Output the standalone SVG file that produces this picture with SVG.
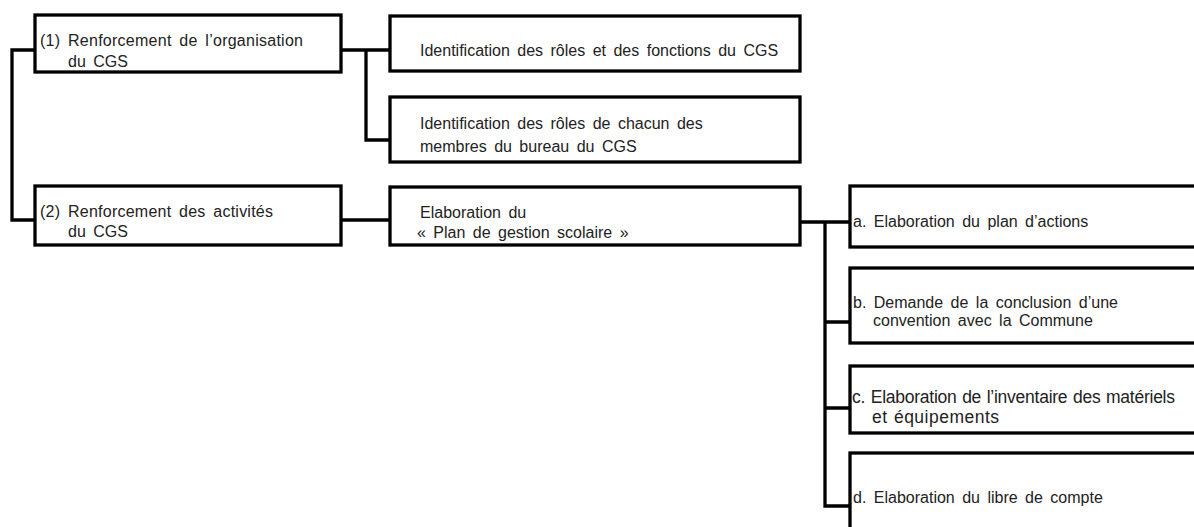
<svg xmlns="http://www.w3.org/2000/svg" width="1194" height="527" viewBox="0 0 1194 527">
<style>
.box{fill:#fff;stroke:#000;stroke-width:3.3}
.t{font-family:"Liberation Sans",Arial,sans-serif;font-size:16px;word-spacing:3px;fill:#222}
.tc{font-size:17.5px;word-spacing:1px}
.c{fill:none;stroke:#000;stroke-width:3.3}
</style>
<rect width="1194" height="527" fill="#fff"/>
<g id="connectors">
<path class="c" d="M35,50 H12 V220 H35"/>
<path class="c" d="M341,50 H390 M366,50 V140 H390"/>
<path class="c" d="M341,220 H390"/>
<path class="c" d="M800,222 H850 M825,222 V506 H850 M825,322 H850 M825,408 H850"/>
</g>
<g id="n1"><rect class="box" x="35" y="15" width="306" height="57"/>
<text class="t" x="40" y="46" textLength="263" lengthAdjust="spacing">(1) Renforcement de l’organisation</text><text class="t" x="68" y="67">du CGS</text></g>
<g id="n2"><rect class="box" x="35" y="186" width="306" height="59"/>
<text class="t" x="40" y="217" textLength="233" lengthAdjust="spacing">(2) Renforcement des activités</text><text class="t" x="68" y="237">du CGS</text></g>
<g id="n3"><rect class="box" x="390" y="16" width="410" height="55"/>
<text class="t" x="420" y="56">Identification des rôles et des fonctions du CGS</text></g>
<g id="n4"><rect class="box" x="390" y="97" width="410" height="65"/>
<text class="t" x="420" y="129">Identification des rôles de chacun des</text><text class="t" x="420" y="152">membres du bureau du CGS</text></g>
<g id="n5"><rect class="box" x="390" y="187" width="410" height="58"/>
<text class="t" x="420" y="218">Elaboration du</text><text class="t" x="417" y="238">« Plan de gestion scolaire »</text></g>
<g id="na"><rect class="box" x="850" y="186" width="360" height="61"/>
<text class="t" x="853" y="227">a. Elaboration du plan d’actions</text></g>
<g id="nb"><rect class="box" x="850" y="268" width="360" height="75"/>
<text class="t" x="853" y="308">b. Demande de la conclusion d’une</text><text class="t" x="873" y="326">convention avec la Commune</text></g>
<g id="nc"><rect class="box" x="850" y="366" width="360" height="67"/>
<text class="t tc" x="852" y="403" textLength="323" lengthAdjust="spacing">c. Elaboration de l’inventaire des matériels</text><text class="t tc" x="872" y="423" textLength="127" lengthAdjust="spacing">et équipements</text></g>
<g id="nd"><rect class="box" x="850" y="453" width="360" height="90"/>
<text class="t" x="853" y="503">d. Elaboration du libre de compte</text></g>
</svg>
